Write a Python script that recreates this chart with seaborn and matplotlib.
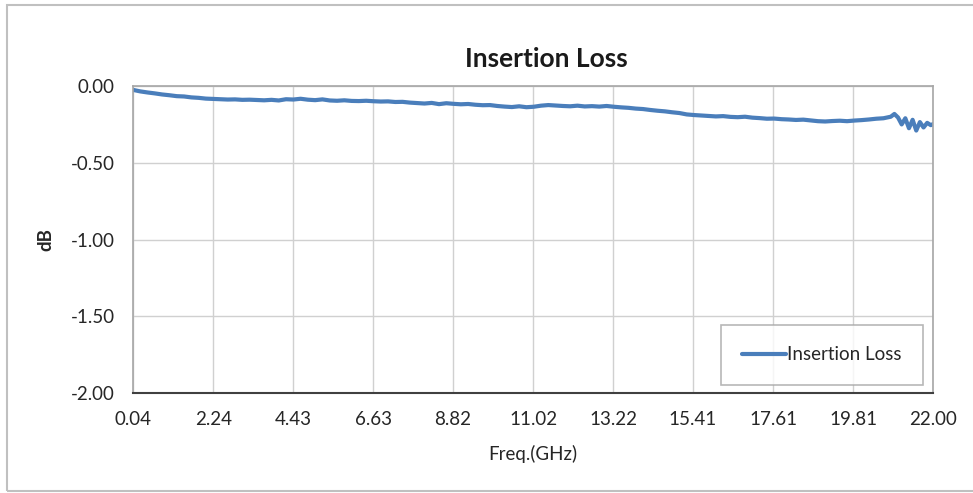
import matplotlib
matplotlib.use("Agg")
import matplotlib.pyplot as plt
import seaborn as sns
import pandas as pd
from matplotlib.patches import Rectangle

# data (GHz, dB)
freq_ghz = [
    0.04, 0.24, 0.44, 0.64, 0.84, 1.04, 1.24, 1.44, 1.64, 1.84,
    2.04, 2.24, 2.44, 2.64, 2.84, 3.04, 3.24, 3.44, 3.64, 3.84,
    4.04, 4.24, 4.44, 4.64, 4.84, 5.04, 5.24, 5.44, 5.64, 5.84,
    6.04, 6.24, 6.44, 6.64, 6.84, 7.04, 7.24, 7.44, 7.64, 7.84,
    8.04, 8.24, 8.44, 8.64, 8.84, 9.04, 9.24, 9.44, 9.64, 9.84,
    10.04, 10.24, 10.44, 10.64, 10.84, 11.04, 11.24, 11.44, 11.64, 11.84,
    12.04, 12.24, 12.44, 12.64, 12.84, 13.04, 13.24, 13.44, 13.64, 13.84,
    14.04, 14.24, 14.44, 14.64, 14.84, 15.04, 15.24, 15.44, 15.64, 15.84,
    16.04, 16.24, 16.44, 16.64, 16.84, 17.04, 17.24, 17.44, 17.64, 17.84,
    18.04, 18.24, 18.44, 18.64, 18.84, 19.04, 19.24, 19.44, 19.64, 19.84,
    20.04, 20.24, 20.44, 20.64, 20.84, 20.94, 21.04, 21.14, 21.24, 21.34,
    21.44, 21.54, 21.64, 21.74, 21.84, 21.94, 22.00,
]
loss_db = [
    -0.025, -0.035, -0.042, -0.048, -0.055, -0.060, -0.066, -0.068, -0.074, -0.077,
    -0.082, -0.084, -0.086, -0.088, -0.087, -0.090, -0.089, -0.091, -0.093, -0.090,
    -0.094, -0.086, -0.088, -0.083, -0.089, -0.092, -0.087, -0.094, -0.096, -0.093,
    -0.097, -0.098, -0.096, -0.099, -0.101, -0.100, -0.104, -0.103, -0.108, -0.111,
    -0.114, -0.110, -0.118, -0.112, -0.116, -0.119, -0.117, -0.122, -0.125, -0.124,
    -0.130, -0.134, -0.137, -0.132, -0.138, -0.135, -0.128, -0.124, -0.127, -0.130,
    -0.132, -0.128, -0.133, -0.131, -0.134, -0.130, -0.135, -0.139, -0.142, -0.147,
    -0.150, -0.156, -0.161, -0.165, -0.171, -0.176, -0.185, -0.189, -0.192, -0.195,
    -0.198, -0.196, -0.201, -0.203, -0.200, -0.206, -0.209, -0.213, -0.212, -0.216,
    -0.218, -0.221, -0.219, -0.224, -0.229, -0.231, -0.228, -0.226, -0.229, -0.225,
    -0.222, -0.218, -0.213, -0.210, -0.200, -0.182, -0.205, -0.250, -0.210, -0.275,
    -0.220, -0.290, -0.235, -0.270, -0.240, -0.255, -0.248,
]
x_ticks = [0.04, 2.24, 4.43, 6.63, 8.82, 11.02, 13.22, 15.41, 17.61, 19.81, 22.00]
y_ticks = [-2.0, -1.5, -1.0, -0.5, 0.0]

sns.set_style("white")
plt.rcParams["font.family"] = ["Lato", "DejaVu Sans"]

df = pd.DataFrame({"Freq": freq_ghz, "dB": loss_db})

fig = plt.figure(figsize=(9.73, 4.93), dpi=100)
ax = fig.add_axes([0.1367, 0.2028, 0.8222, 0.6227])

sns.lineplot(data=df, x="Freq", y="dB", ax=ax, color="#4a7ebb",
             linewidth=3.0, label="Insertion Loss")

ax.set_xlim(x_ticks[0], x_ticks[-1])
ax.set_ylim(-2.0, 0.0)
ax.set_xticks(x_ticks)
ax.set_xticklabels([f"{v:.2f}" for v in x_ticks])
ax.set_yticks(y_ticks)
ax.set_yticklabels([f"{v:.2f}" for v in y_ticks])
ax.tick_params(axis="x", length=0, pad=13, labelsize=13.5, labelcolor="#262626")
ax.tick_params(axis="y", length=0, pad=13, labelsize=13.5, labelcolor="#262626")

ax.grid(True, color="#d0d0d0", linewidth=1.0)
ax.set_axisbelow(True)
for side in ["top", "right", "left"]:
    ax.spines[side].set_color("#a6a6a6")
    ax.spines[side].set_linewidth(1.2)
ax.spines["bottom"].set_color("#404040")
ax.spines["bottom"].set_linewidth(1.5)

ax.set_xlabel("Freq.(GHz)", fontsize=13.5, color="#262626", labelpad=12)
ax.set_ylabel("dB", fontsize=13.5, fontweight="bold", color="#262626", labelpad=12)
ax.set_title("Insertion Loss", fontsize=19, fontweight="bold", color="#1a1a1a", pad=14, x=0.517)

leg = ax.legend(loc="lower right", bbox_to_anchor=(0.987, 0.027), frameon=True,
                fancybox=False, fontsize=13.5, handlelength=2.3, handletextpad=0.05,
                borderpad=1.15, borderaxespad=0.0, labelcolor="#262626")
leg.get_frame().set_edgecolor("#a6a6a6")
leg.get_frame().set_linewidth(1.2)

# outer chart border
fig.patches.append(Rectangle((7 / 973, 2 / 493), 1.0, 486 / 493, transform=fig.transFigure,
                             fill=False, edgecolor="#c0c0c0", linewidth=1.5))

fig.savefig("out.png", dpi=100)
